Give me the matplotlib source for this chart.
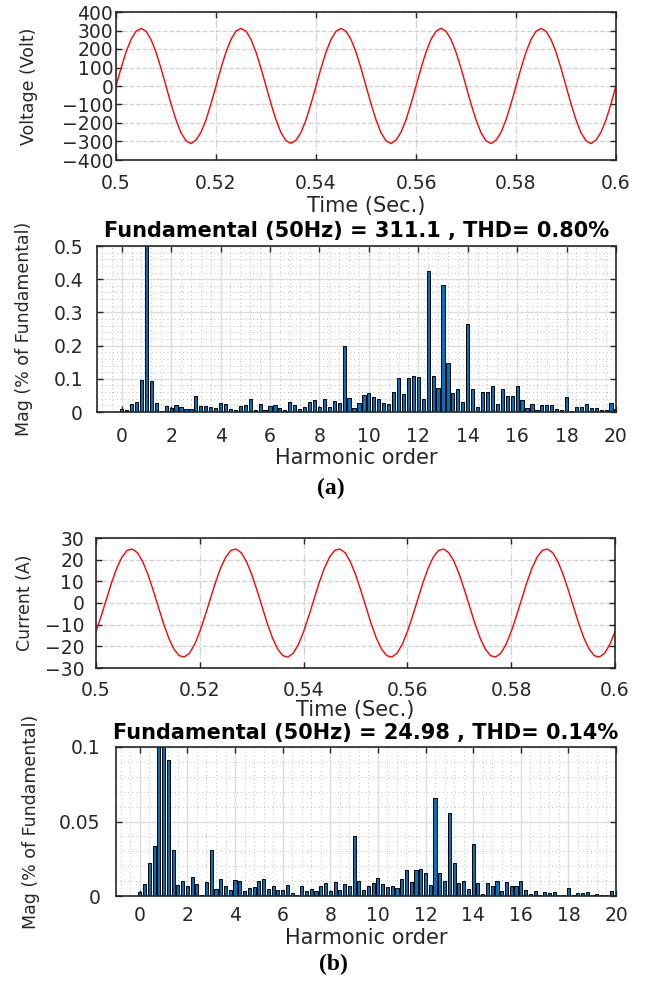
import numpy as np
import matplotlib
matplotlib.use("Agg")
import matplotlib.pyplot as plt
from matplotlib.ticker import AutoMinorLocator

# ---- data ----
# time axis, 1 ms samples from 0.5 s to 0.6 s
t = np.round(0.5 + 0.001 * np.arange(101), 3)

voltage = [
    0, 96, 183, 252, 296, 311, 296, 252, 183, 96,
    0, -96, -183, -252, -296, -311, -292, -250, -183, -96,
    0, 97, 184, 252, 297, 311, 297, 252, 183, 95,
    0, -96, -183, -252, -296, -310, -293, -251, -183, -96,
    0, 96, 183, 252, 296, 311, 296, 252, 183, 96,
    0, -96, -183, -252, -296, -311, -292, -250, -183, -96,
    0, 96, 183, 252, 296, 312, 296, 252, 183, 96,
    0, -96, -183, -252, -296, -311, -293, -251, -183, -96,
    0, 96, 183, 252, 296, 311, 296, 252, 183, 96,
    0, -96, -183, -252, -296, -311, -292, -250, -183, -96,
    0,
]

current = [
    -13.2, -6.0, 1.7, 9.4, 16.1, 21.2, 24.3, 24.9, 23.2, 19.1,
    13.2, 6.0, -1.7, -9.4, -16.1, -21.2, -24.3, -24.9, -23.2, -19.1,
    -13.2, -6.0, 1.7, 9.4, 16.1, 21.2, 24.3, 24.9, 23.2, 19.1,
    13.2, 6.0, -1.7, -9.4, -16.1, -21.2, -24.3, -24.9, -23.2, -19.1,
    -13.2, -6.0, 1.7, 9.4, 16.1, 21.2, 24.3, 24.9, 23.2, 19.1,
    13.2, 6.0, -1.7, -9.4, -16.1, -21.2, -24.3, -24.9, -23.2, -19.1,
    -13.2, -6.0, 1.7, 9.4, 16.1, 21.2, 24.3, 24.9, 23.2, 19.1,
    13.2, 6.0, -1.7, -9.4, -16.1, -21.2, -24.3, -24.9, -23.2, -19.1,
    -13.2, -6.0, 1.7, 9.4, 16.1, 21.2, 24.3, 24.9, 23.2, 19.1,
    13.2, 6.0, -1.7, -9.4, -16.1, -21.2, -24.3, -24.9, -23.2, -19.1,
    -13.2,
]

# harmonic order bins 0, 0.2, ..., 20
harm = np.round(0.2 * np.arange(101), 1)

mag_v = [
    0.008, 0.006, 0.024, 0.029, 0.096, 100, 0.092, 0.027, 0.002, 0.018,
    0.011, 0.020, 0.016, 0.009, 0.010, 0.047, 0.017, 0.017, 0.014, 0.012,
    0.026, 0.023, 0.008, 0.005, 0.018, 0.021, 0.039, 0.005, 0.024, 0.005,
    0.018, 0.021, 0.013, 0.006, 0.030, 0.020, 0.010, 0.014, 0.029, 0.035,
    0.014, 0.038, 0.015, 0.032, 0.028, 0.198, 0.041, 0.012, 0.026, 0.052,
    0.058, 0.046, 0.040, 0.027, 0.024, 0.060, 0.103, 0.055, 0.101, 0.107,
    0.106, 0.038, 0.425, 0.108, 0.071, 0.383, 0.149, 0.057, 0.068, 0.029,
    0.264, 0.070, 0.015, 0.061, 0.061, 0.078, 0.024, 0.068, 0.048, 0.049,
    0.078, 0.036, 0.011, 0.025, 0.007, 0.020, 0.020, 0.020, 0.008, 0.006,
    0.044, 0.003, 0.016, 0.016, 0.024, 0.012, 0.011, 0.006, 0.006, 0.028,
    0.010,
]

mag_i = [
    0.0027, 0.0078, 0.0220, 0.0336, 0.1500, 100, 0.0910, 0.0307, 0.0076, 0.0100,
    0.0067, 0.0128, 0.0081, 0.0007, 0.0092, 0.0307, 0.0045, 0.0117, 0.0070, 0.0038,
    0.0105, 0.0099, 0.0034, 0.0052, 0.0063, 0.0101, 0.0112, 0.0045, 0.0070, 0.0043,
    0.0043, 0.0076, 0.0020, 0.0007, 0.0067, 0.0031, 0.0047, 0.0031, 0.0067, 0.0085,
    0.0036, 0.0096, 0.0038, 0.0078, 0.0067, 0.0400, 0.0099, 0.0038, 0.0065, 0.0087,
    0.0119, 0.0078, 0.0058, 0.0065, 0.0052, 0.0112, 0.0177, 0.0096, 0.0173, 0.0184,
    0.0157, 0.0072, 0.0659, 0.0152, 0.0099, 0.0556, 0.0220, 0.0087, 0.0103, 0.0045,
    0.0350, 0.0085, 0.0011, 0.0085, 0.0067, 0.0099, 0.0036, 0.0092, 0.0067, 0.0067,
    0.0099, 0.0038, 0.0011, 0.0034, 0.0007, 0.0027, 0.0022, 0.0025, 0.0004, 0.0004,
    0.0052, 0.0009, 0.0020, 0.0018, 0.0029, 0.0007, 0.0011, 0.0007, 0.0009, 0.0034,
    0.0010,
]

time_ticks = [0.5, 0.52, 0.54, 0.56, 0.58, 0.6]
time_labels = ["0.5", "0.52", "0.54", "0.56", "0.58", "0.6"]
title_v = "Fundamental (50Hz) = 311.1 , THD= 0.80%"
title_i = "Fundamental (50Hz) = 24.98 , THD= 0.14%"

# ---- style ----
plt.rcParams["font.family"] = "DejaVu Sans"
dark = "#262626"
W, H = 649, 981
TICK = 13.5
LAB = 15
YLAB = 12.5


def rect(l, r, top, bot):
    return [l / W, 1 - bot / H, (r - l) / W, (bot - top) / H]


def style(ax, xpad, ypad):
    for s in ax.spines.values():
        s.set_color(dark)
        s.set_linewidth(1.2)
    ax.tick_params(which="major", direction="in", top=True, right=True,
                   length=4, width=1, colors=dark, labelsize=TICK)
    ax.tick_params(axis="x", which="major", pad=xpad)
    ax.tick_params(axis="y", which="major", pad=ypad)
    ax.tick_params(which="minor", length=0)
    ax.set_axisbelow(True)


def labels(ax, xlabel, ylabel, xl_y, yl_x):
    ax.set_xlabel(xlabel, fontsize=LAB, color=dark, va="center")
    ax.xaxis.set_label_coords(0.5, xl_y)
    ax.set_ylabel(ylabel, fontsize=YLAB, color=dark, va="center")
    ax.yaxis.set_label_coords(yl_x, 0.5)


fig = plt.figure(figsize=(6.49, 9.81), dpi=100)

# Plot 1 - voltage waveform
ax1 = fig.add_axes(rect(116, 616, 12, 160))
ax1.plot(t, voltage, color="red", lw=1)
ax1.set_xlim(0.5, 0.6)
ax1.set_ylim(-400, 400)
ax1.set_xticks(time_ticks)
ax1.set_xticklabels(time_labels)
ax1.set_yticks(range(-400, 401, 100))
ax1.xaxis.grid(True, color="#d0d0d0", ls="-.", lw=0.9)
ax1.yaxis.grid(True, color="#d0d0d0", ls="--", lw=0.9)
style(ax1, 10, 2)
labels(ax1, "Time (Sec.)", "Voltage (Volt)", -0.31, -0.174)

# Plot 2 - voltage harmonic spectrum
ax2 = fig.add_axes(rect(97, 616, 246, 412))
ax2.bar(harm, mag_v, width=0.13, color="#0072BD", edgecolor="black", lw=0.7)
ax2.set_xlim(-1, 20)
ax2.set_ylim(0, 0.5)
ax2.set_xticks(range(0, 21, 2))
ax2.set_yticks([0, 0.1, 0.2, 0.3, 0.4, 0.5])
ax2.set_yticklabels(["0", "0.1", "0.2", "0.3", "0.4", "0.5"])
ax2.xaxis.set_minor_locator(AutoMinorLocator(5))
ax2.yaxis.set_minor_locator(AutoMinorLocator(5))
ax2.grid(True, which="major", color="#dcdcdc", lw=1)
ax2.grid(True, which="minor", color="#bdbdbd", ls=(0, (1, 3)), lw=0.7)
ax2.set_title(title_v, fontweight="bold", fontsize=15, pad=6.5)
style(ax2, 11, 10)
labels(ax2, "Harmonic order", "Mag (% of Fundamental)", -0.28, -0.141)
fig.text(331 / W, 1 - 488 / H, "(a)", family="Liberation Serif", fontweight="bold",
         fontsize=17, ha="center", va="center")

# Plot 3 - current waveform
ax3 = fig.add_axes(rect(96, 615, 538, 668))
ax3.plot(t, current, color="red", lw=1)
ax3.set_xlim(0.5, 0.6)
ax3.set_ylim(-30, 30)
ax3.set_xticks(time_ticks)
ax3.set_xticklabels(time_labels)
ax3.set_yticks(range(-30, 31, 10))
ax3.xaxis.grid(True, color="#d0d0d0", ls="-.", lw=0.9)
ax3.yaxis.grid(True, color="#d0d0d0", ls="--", lw=0.9)
style(ax3, 9, 8.5)
labels(ax3, "Time (Sec.)", "Current (A)", -0.32, -0.137)

# Plot 4 - current harmonic spectrum
ax4 = fig.add_axes(rect(116, 616, 747, 896))
ax4.bar(harm, mag_i, width=0.13, color="#0072BD", edgecolor="black", lw=0.7)
ax4.set_xlim(-1, 20)
ax4.set_ylim(0, 0.1)
ax4.set_xticks(range(0, 21, 2))
ax4.set_yticks([0, 0.05, 0.1])
ax4.set_yticklabels(["0", "0.05", "0.1"])
ax4.xaxis.set_minor_locator(AutoMinorLocator(5))
ax4.yaxis.set_minor_locator(AutoMinorLocator(5))
ax4.grid(True, which="major", color="#dcdcdc", lw=1)
ax4.grid(True, which="minor", color="#bdbdbd", ls=(0, (1, 3)), lw=0.7)
ax4.set_title(title_i, fontweight="bold", fontsize=15, pad=6)
style(ax4, 7.5, 11)
labels(ax4, "Harmonic order", "Mag (% of Fundamental)", -0.285, -0.17)
fig.text(333 / W, 1 - 964 / H, "(b)", family="Liberation Serif", fontweight="bold",
         fontsize=17, ha="center", va="center")

fig.savefig("out.png", dpi=100)
